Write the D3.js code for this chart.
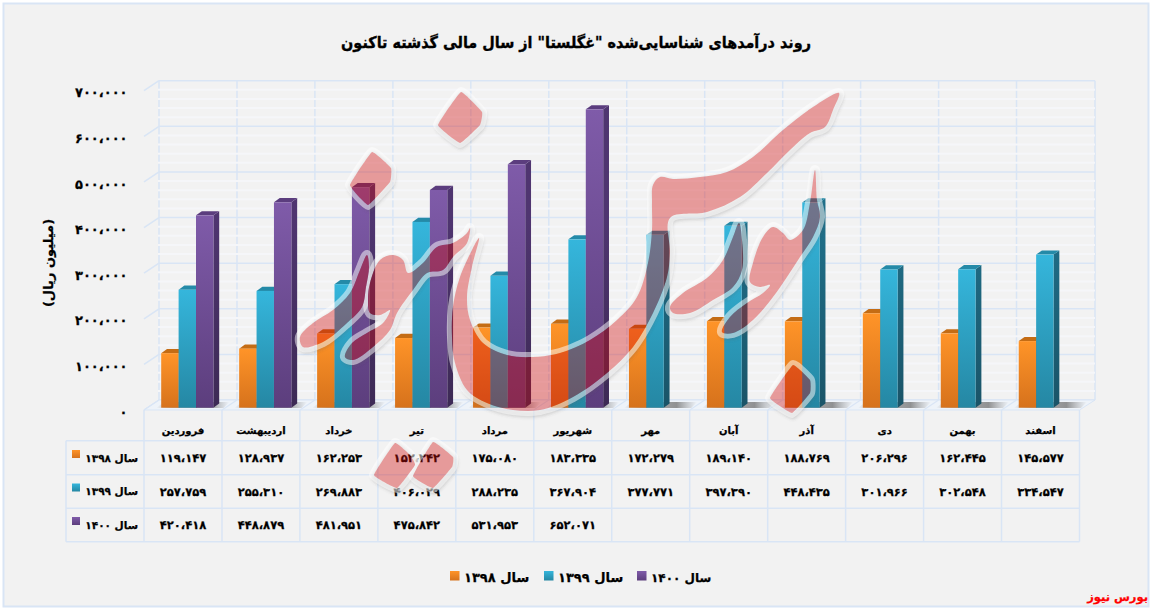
<!DOCTYPE html>
<html lang="fa"><head><meta charset="utf-8">
<script src="https://cdn.jsdelivr.net/npm/d3@7/dist/d3.min.js"></script>
<style>
html,body{margin:0;padding:0;background:#fff}
svg{display:block}
text{font-family:"DejaVu Sans",sans-serif;font-weight:bold;fill:#000;stroke:#000;stroke-width:0.25px}
</style></head><body><svg id="c" width="1152" height="609"></svg>
<script>
const months = ["فروردین","اردیبهشت","خرداد","تیر","مرداد","شهریور","مهر","آبان","آذر","دی","بهمن","اسفند"];
const seriesNames = ["سال ۱۳۹۸","سال ۱۳۹۹","سال ۱۴۰۰"];
const v1398 = [119147,128937,162253,152242,175080,183335,172279,189140,188769,206296,162445,145577];
const v1399 = [257759,255310,269883,406029,288235,367904,377771,397390,448435,301966,302548,334547];
const v1400 = [420418,448879,481951,475842,531953,652071,null,null,null,null,null,null];
const yTicks = [0,100000,200000,300000,400000,500000,600000,700000];
const titleText = 'روند درآمدهای شناسایی‌شده "غگلستا" از سال مالی گذشته تاکنون';
const yTitle = "(میلیون ریال)";
const sourceText = "بورس نیوز";
const allSeries = [v1398,v1399,v1400];

const palette = [
 {top:"#ff9428",bottom:"#d6721c",cap:"#c46c14",sideT:"#b0610f",sideB:"#8f4e0c"},
 {top:"#35b6dc",bottom:"#2587a3",cap:"#248aa8",sideT:"#20708a",sideB:"#1a5468"},
 {top:"#7f5ba9",bottom:"#5c3e7d",cap:"#5b3d7e",sideT:"#4f3570",sideB:"#3d2a55"}];

const svg = d3.select("#c");
const defs = svg.append("defs");
const fmt = d3.formatLocale({decimal:".",thousands:"،",grouping:[3],currency:["",""],
  numerals:["۰","۱","۲","۳","۴","۵","۶","۷","۸","۹"]}).format(",");

/* scales */
const left=144, right=1079.5, dx=15, dy=10;
const x = d3.scaleBand().domain(months).range([left,right]).paddingInner(0).paddingOuter(0);
const yMax = 700000;
const yBar = d3.scaleLinear().domain([0,yMax]).range([407.7,87.4]);
const yBack = d3.scaleLinear().domain([0,yMax]).range([400,80.7]);
const yFront = d3.scaleLinear().domain([0,yMax]).range([410,90.7]);

/* frame */
svg.append("rect").attr("x",3.5).attr("y",3.5).attr("width",1145).attr("height",603)
  .attr("fill","#f2f2f2").attr("stroke","#d9e5f5").attr("stroke-width",2);

/* gradients */
palette.forEach((p,i)=>{
  const s=defs.append("linearGradient").attr("id",`gs${i}`).attr("gradientUnits","userSpaceOnUse")
    .attr("x1",0).attr("x2",0).attr("y1",220).attr("y2",408);
  s.append("stop").attr("offset",0).attr("stop-color",p.sideT);
  s.append("stop").attr("offset",1).attr("stop-color",p.sideB);
  const g2=defs.append("linearGradient").attr("id",`gf${i}o`).attr("x1",0).attr("x2",0).attr("y1",0).attr("y2",1);
  g2.append("stop").attr("offset",0).attr("stop-color",p.top);
  g2.append("stop").attr("offset",1).attr("stop-color",p.bottom);
});
const sh=defs.append("linearGradient").attr("id","shadow");
[[0,"#8a8a8a",0],[0.22,"#808080",0.55],[0.72,"#707070",0.75],[1,"#888",0]].forEach(s=>
  sh.append("stop").attr("offset",s[0]).attr("stop-color",s[1]).attr("stop-opacity",s[2]));

/* walls */
const gridColor="#d9e5f5";
const wall=svg.append("g");
const backR=right+dx+0.5;
const minor=d3.range(0,yMax,20000).filter(v=>v%100000);
wall.selectAll(".vb").data(d3.range(months.length)).join("line")
  .attr("x1",i=>x(months[i])+dx).attr("x2",i=>x(months[i])+dx)
  .attr("y1",yBack(yMax)).attr("y2",yBack(0)).attr("stroke",gridColor).attr("stroke-width",1.5);
wall.append("line").attr("x1",backR).attr("x2",backR).attr("y1",yBack(yMax)).attr("y2",yBack(0))
  .attr("stroke",gridColor).attr("stroke-width",1.5);
wall.selectAll(".mn").data(minor).join("line")
  .attr("x1",left+dx-1).attr("x2",backR).attr("y1",yBack).attr("y2",yBack)
  .attr("stroke","#f5f6f9").attr("stroke-width",2);
wall.selectAll(".mj").data(yTicks).join("line")
  .attr("x1",left+dx).attr("x2",backR).attr("y1",yBack).attr("y2",yBack)
  .attr("stroke",gridColor).attr("stroke-width",1.5);
wall.selectAll(".dg").data(yTicks).join("line")
  .attr("x1",left).attr("x2",left+dx).attr("y1",yFront).attr("y2",yBack)
  .attr("stroke",gridColor).attr("stroke-width",1.5);

/* floor */
wall.append("path").attr("d",`M${left},410L${left+dx},400L${backR},400L${right},410Z`)
  .attr("fill","#eef3f9").attr("stroke",gridColor).attr("stroke-width",1);
wall.selectAll(".fd").data(d3.range(months.length)).join("line")
  .attr("x1",i=>x(months[i])).attr("y1",410).attr("x2",i=>x(months[i])+dx).attr("y2",400)
  .attr("stroke",gridColor).attr("stroke-width",1.2);

/* bars */
const bw=17.4, bd=5.8, bh=4.2, inset=17.2;
const plot=svg.append("g");
plot.selectAll(".sh").data(months).join("path")
  .attr("d",m=>{const a=x(m)+inset-5,b=x(m)+inset+3*bw+16;
    return `M${a},408L${a+8},402L${b},402L${b-6},408Z`;})
  .attr("fill","url(#shadow)");
months.forEach((m,mi)=>{
  allSeries.forEach((s,si)=>{
    const val=s[mi]; if(val==null) return;
    const p=si, x0=x(m)+inset+si*bw, y0=yBar(val), yb=yBar(0), g=plot.append("g");
    g.append("path").attr("d",`M${x0+bw},${y0}L${x0+bw+bd},${y0-bh}L${x0+bw+bd},${yb-bh}L${x0+bw},${yb}Z`)
      .attr("fill",`url(#gs${p})`);
    g.append("path").attr("d",`M${x0},${y0}L${x0+bd},${y0-bh}L${x0+bw+bd},${y0-bh}L${x0+bw},${y0}Z`)
      .attr("fill",palette[p].cap);
    g.append("rect").attr("x",x0).attr("y",y0).attr("width",bw).attr("height",yb-y0)
      .attr("fill",`url(#gf${p}o)`);
  });
});

/* y axis */
svg.append("g").attr("transform","translate(127.5,2)")
  .call(d3.axisLeft(yFront).tickValues(yTicks).tickFormat(fmt).tickSize(0).tickPadding(0))
  .call(g=>g.select(".domain").remove())
  .selectAll("text").style("font-size","13px").style("font-family",'"DejaVu Sans"').style("font-weight","bold");
svg.append("text").attr("transform","translate(48,263) rotate(-90)").attr("text-anchor","middle")
  .attr("dy","0.35em").attr("direction","rtl").style("font-size","13px").text(yTitle);

/* data table */
const tTop=410, rows=[440.7,474.8,508.3,541.7], tLeft=66;
const tbl=svg.append("g").attr("stroke",gridColor).attr("stroke-width",1.5);
tbl.selectAll(".th").data(rows).join("line").attr("x1",tLeft).attr("x2",right)
  .attr("y1",d=>d).attr("y2",d=>d);
tbl.selectAll(".tv").data(d3.range(months.length+1)).join("line")
  .attr("x1",i=>left+i*x.bandwidth()).attr("x2",i=>left+i*x.bandwidth())
  .attr("y1",tTop).attr("y2",rows[3]);
tbl.append("line").attr("x1",tLeft).attr("x2",tLeft).attr("y1",rows[0]).attr("y2",rows[3]);

svg.append("g").attr("transform","translate(0,430)")
  .call(d3.axisBottom(x).tickSize(0).tickPadding(0))
  .call(g=>g.select(".domain").remove())
  .selectAll("text").attr("y",0).attr("dy","0.35em")
  .style("font-size","10px").style("font-family",'"DejaVu Sans"').style("font-weight","bold");

const rowMid=[458,491.5,525];
allSeries.forEach((s,si)=>{
  svg.append("g").selectAll("text").data(s.map((v,i)=>[v,i]).filter(d=>d[0]!=null)).join("text")
    .attr("x",d=>x(months[d[1]])+x.bandwidth()/2).attr("y",rowMid[si]).attr("dy","0.35em")
    .attr("text-anchor","middle").style("font-size","11.5px").text(d=>fmt(d[0]));
  svg.append("rect").attr("x",72).attr("y",rowMid[si]-8).attr("width",8).attr("height",8)
    .attr("fill",`url(#gf${si}o)`);
  svg.append("text").attr("y",rowMid[si]).attr("dy","0.35em")
    .attr("direction","rtl").style("font-size","10.5px").attr("x",138).text(seriesNames[si]);
});

/* legend */
const legX=[450,544,637];
seriesNames.forEach((n,i)=>{
  svg.append("rect").attr("x",legX[i]).attr("y",571).attr("width",9.5).attr("height",9.5).attr("fill",`url(#gf${i}o)`);
  svg.append("text").attr("x",legX[i]+14).attr("y",581).attr("dy","0.1em")
    .style("font-size",i==2?"12px":"13px").text(n);
});

/* title, source */
svg.append("text").attr("transform","translate(576,43) scale(0.9,1)").attr("dy","0.3em").attr("text-anchor","middle")
  .attr("direction","rtl").style("font-size","16px").style("stroke-width","0.35px").text(titleText);
svg.append("text").attr("x",1148).attr("y",598).attr("dy","0.3em").attr("direction","rtl")
  .style("font-size","11.5px").style("fill","#f00").style("stroke","#f00").text(sourceText);

/* watermark (decorative calligraphy, outlines only) */
const wmStrokes=[
 [[839,93],[813,107],[783,130],[753,157],[727,172],[700,177],[673,179],[660,177],[653,185],[652,203],[652,230],[648,263],[637,297],[617,320],[590,340],[560,353],[533,357],[507,355],[483,343],[470,320],[467,297],[472,267],[479,238],[460,277],[453,307],[452,337],[455,363],[467,390],[487,403],[513,410],[540,410],[573,397],[607,373],[633,347],[653,313],[667,277],[670,253],[670,218],[707,212],[740,197],[767,173],[790,150],[810,133],[825,127],[833,110]],
 [[670,307],[683,293],[707,278],[723,260],[733,237],[739,223],[742,240],[742,270],[733,287],[713,300],[690,313],[673,313]],
 [[815,170],[817,200],[820,217],[813,237],[800,257],[787,277],[773,297],[753,320],[733,333],[722,332],[730,317],[747,303],[763,293],[770,285],[760,287],[750,282],[753,263],[763,237],[773,227],[783,233],[790,240],[803,230],[810,203]],
 [[300,337],[313,323],[333,310],[350,293],[360,270],[367,255],[369,267],[366,287],[362,307],[347,323],[323,342],[303,347]],
 [[470,228],[467,243],[453,257],[443,270],[427,273],[413,290],[397,313],[390,330],[373,347],[353,360],[345,357],[352,343],[367,333],[383,323],[390,310],[380,315],[370,313],[368,300],[370,283],[380,260],[393,255],[403,260],[408,273],[423,263],[437,247],[453,243],[467,233]]];
const wmDots=[
 [[461,92],[482,112],[480,125],[460,143],[438,125]],
 [[372,152],[391,168],[390,182],[368,205],[350,185]],
 [[395,443],[410,455],[415,465],[397,488],[374,475]],
 [[433,442],[453,457],[452,467],[433,488],[413,476]],
 [[793,365],[810,380],[810,393],[792,413],[770,398]]];
const lineS=d3.line().curve(d3.curveCatmullRomClosed.alpha(0.5));
const lineD=d3.line().curve(d3.curveCardinalClosed.tension(0.72));
const wmPaths=[...wmStrokes.map(p=>lineS(p)),...wmDots.map(p=>lineD(p))];
const blur=defs.append("filter").attr("id","wb").attr("x","-10%").attr("y","-10%").attr("width","120%").attr("height","120%");
blur.append("feGaussianBlur").attr("stdDeviation",1.6);
const mask=defs.append("mask").attr("id","wm").attr("maskUnits","userSpaceOnUse")
  .attr("x",0).attr("y",0).attr("width",1152).attr("height",609);
mask.append("rect").attr("width",1152).attr("height",609).attr("fill","#fff");
mask.selectAll("path").data(wmPaths).join("path").attr("d",d=>d).attr("fill","#000");
const wm=svg.append("g");
const halo=wm.append("g").attr("mask","url(#wm)");
halo.append("g").attr("filter","url(#wb)").selectAll("path").data(wmPaths).join("path")
  .attr("d",d=>d).attr("transform","translate(1,3)").attr("fill","none").attr("stroke","#555")
  .attr("stroke-opacity",0.2).attr("stroke-width",7);
halo.selectAll(".h").data(wmPaths).join("path").attr("d",d=>d).attr("fill","none")
  .attr("stroke","#fff").attr("stroke-opacity",0.5).attr("stroke-width",10).attr("stroke-linejoin","round");
wm.selectAll(".w").data(wmPaths).join("path").attr("d",d=>d)
  .attr("fill","rgb(210,10,10)").attr("fill-opacity",0.38);
</script></body></html>
